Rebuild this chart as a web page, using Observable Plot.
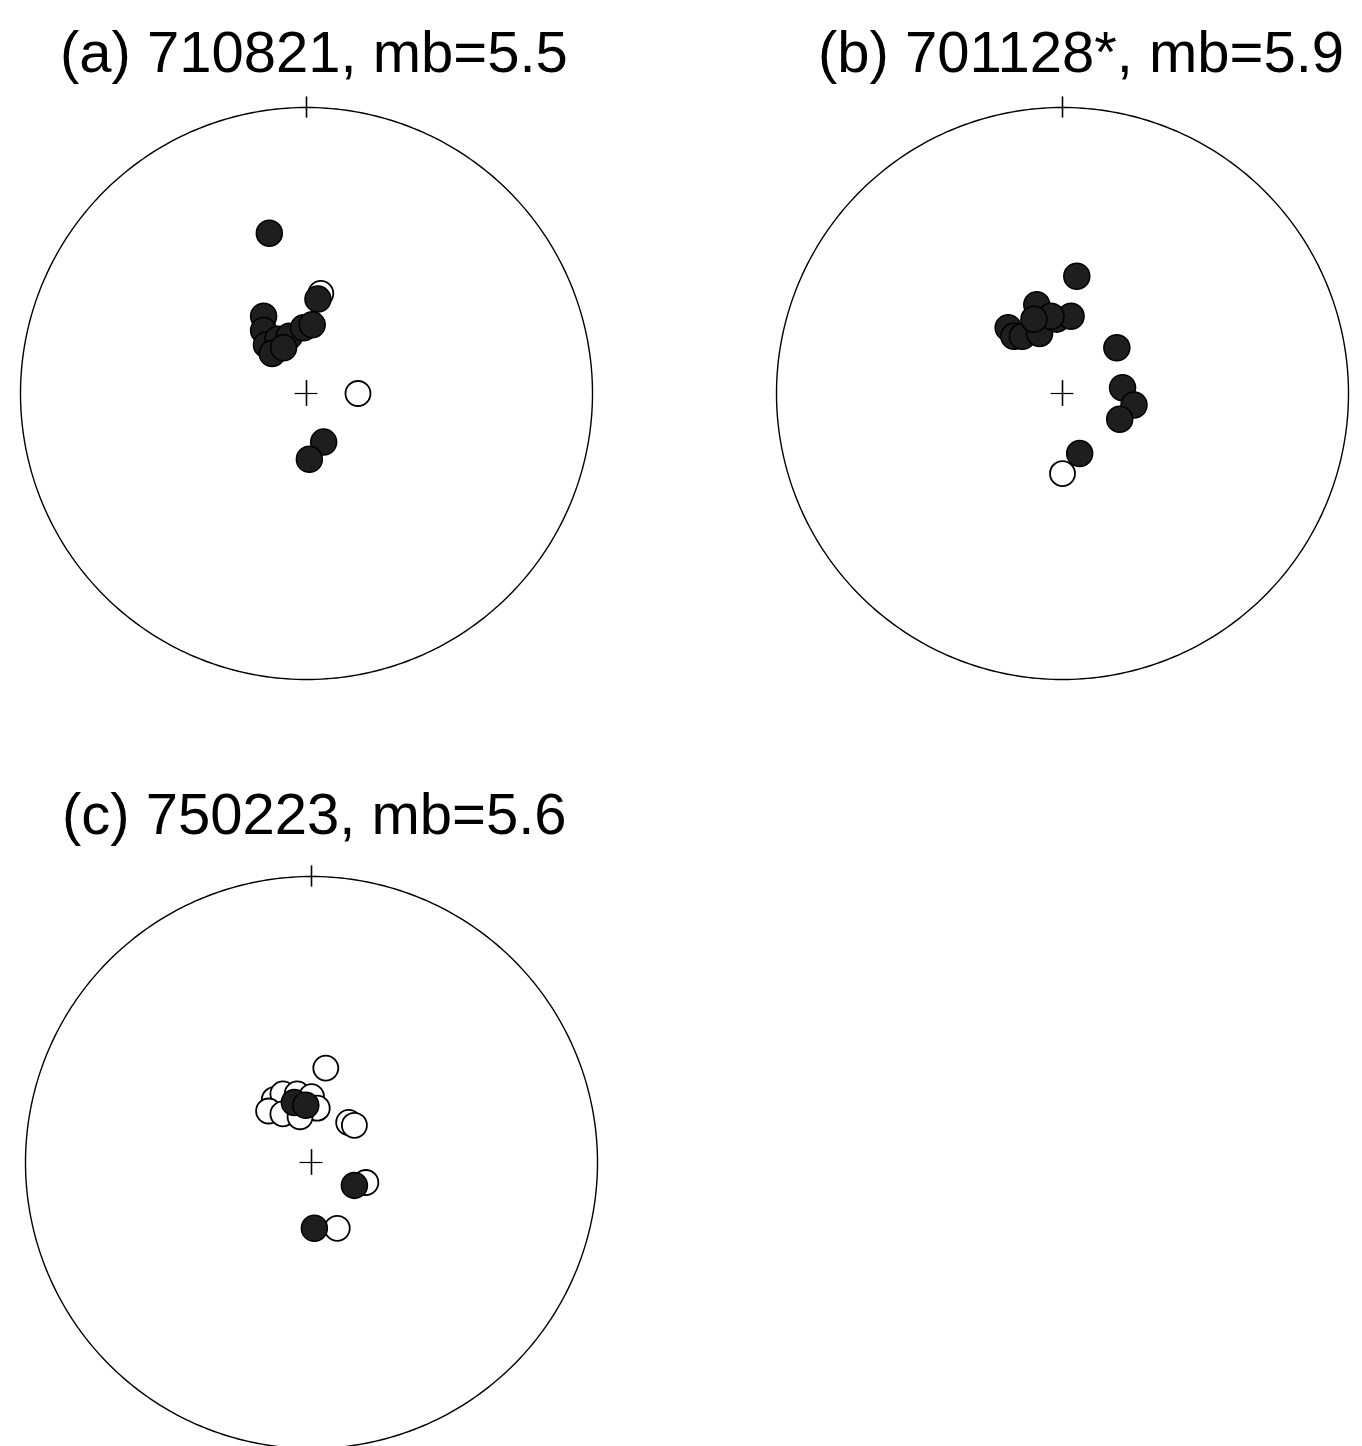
<!DOCTYPE html>
<html><head><meta charset="utf-8">
<script src="https://cdn.jsdelivr.net/npm/d3@7"></script>
<script src="https://cdn.jsdelivr.net/npm/@observablehq/plot@0.6"></script>
<style>
html,body{margin:0;padding:0;background:#fff;}
#root{position:relative;width:1362px;height:1446px;overflow:hidden;background:#fff;}
.title{position:absolute;font-family:"Liberation Sans",Arial,Helvetica,sans-serif;font-size:58px;color:#000;white-space:nowrap;line-height:1;}
.panel{position:absolute;width:640px;height:640px;}
.panel svg{display:block;background:transparent;max-width:none !important;width:640px;height:640px;}
</style></head><body><div id="root"></div>
<script>
// Panel titles
const titles = ["(a) 710821, mb=5.5", "(b) 701128*, mb=5.9", "(c) 750223, mb=5.6"];

// First-motion polarities, normalized projection coordinates (x east, y north, unit circle = net edge)
// Panel (a): compressions (filled) and dilatations (open)
const aCompX = [-0.13, -0.15, -0.15, -0.14, -0.10, -0.06, -0.01, 0.02, 0.04, -0.12, -0.08, 0.06, 0.01];
const aCompY = [0.56, 0.27, 0.22, 0.17, 0.19, 0.20, 0.23, 0.24, 0.33, 0.14, 0.16, -0.17, -0.23];
const aDilX = [0.18, 0.05];
const aDilY = [0.00, 0.35];

// Panel (b)
const bCompX = [0.05, -0.09, -0.19, -0.17, -0.14, -0.08, -0.02, 0.03, -0.04, -0.10, 0.19, 0.21, 0.25, 0.20, 0.06];
const bCompY = [0.41, 0.31, 0.23, 0.20, 0.20, 0.21, 0.26, 0.27, 0.27, 0.26, 0.16, 0.02, -0.04, -0.09, -0.21];
const bDilX = [0.00];
const bDilY = [-0.28];

// Panel (c)
const cCompX = [-0.06, -0.02, 0.15, 0.01];
const cCompY = [0.21, 0.20, -0.08, -0.23];
const cDilX = [0.05, -0.13, -0.10, -0.05, 0.00, -0.15, -0.10, 0.02, -0.04, 0.13, 0.15, 0.19, 0.09];
const cDilY = [0.33, 0.22, 0.24, 0.24, 0.23, 0.18, 0.17, 0.19, 0.16, 0.14, 0.13, -0.07, -0.23];

const toRows = (xs, ys) => xs.map((x, i) => ({x, y: ys[i]}));

// net outline (unit circle geometry)
const outline = d3.range(0, 361, 1).map(a => ({x: Math.sin(a * Math.PI / 180), y: Math.cos(a * Math.PI / 180)}));

function makePanel(comp, dil) {
  return Plot.plot({
    width: 640, height: 640, margin: 34,
    x: {domain: [-1, 1], axis: null},
    y: {domain: [-1, 1], axis: null},
    style: {background: "transparent"},
    marks: [
      Plot.line(outline, {x: "x", y: "y", stroke: "#000", strokeWidth: 1.4}),
      Plot.ruleX([0], {y1: 0.963, y2: 1.037, stroke: "#000", strokeWidth: 1.6}),
      Plot.ruleX([0], {y1: -0.045, y2: 0.045, stroke: "#000", strokeWidth: 1.6}),
      Plot.ruleY([0], {x1: -0.04, x2: 0.04, stroke: "#000", strokeWidth: 1.2}),
      Plot.dot(dil, {x: "x", y: "y", r: 12.5, fill: "#fff", stroke: "#000", strokeWidth: 1.8}),
      Plot.dot(comp, {x: "x", y: "y", r: 13, fill: "#1e1e1e", stroke: "#000", strokeWidth: 1.5})
    ]
  });
}

const root = document.getElementById("root");
const panels = [
  {comp: toRows(aCompX, aCompY), dil: toRows(aDilX, aDilY), left: -14, top: 73, tLeft: 60, tTop: 23},
  {comp: toRows(bCompX, bCompY), dil: toRows(bDilX, bDilY), left: 742, top: 73, tLeft: 818, tTop: 23},
  {comp: toRows(cCompX, cCompY), dil: toRows(cDilX, cDilY), left: -9, top: 842, tLeft: 62, tTop: 785}
];
panels.forEach((p, i) => {
  const t = document.createElement("div");
  t.className = "title";
  t.style.left = p.tLeft + "px";
  t.style.top = p.tTop + "px";
  t.textContent = titles[i];
  root.appendChild(t);
  const d = document.createElement("div");
  d.className = "panel";
  d.style.left = p.left + "px";
  d.style.top = p.top + "px";
  d.appendChild(makePanel(p.comp, p.dil));
  root.appendChild(d);
});
</script>
</body></html>
